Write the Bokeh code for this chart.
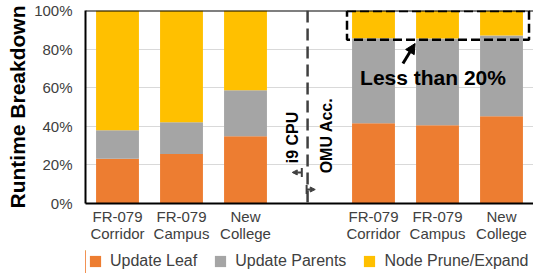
from bokeh.plotting import figure
from bokeh.layouts import column
from bokeh.models import (FixedTicker, Span, Legend, LegendItem, Arrow, NormalHead, TeeHead,
                          ColumnDataSource, Label)
from bokeh.embed import file_html
from bokeh.resources import INLINE

# ---- data ----
categories = ["FR-079\nCorridor", "FR-079\nCampus", "New\nCollege",
              "FR-079\nCorridor", "FR-079\nCampus", "New\nCollege"]
slots = [0, 1, 2, 4, 5, 6]
update_leaf = [23.2, 25.7, 34.9, 41.6, 40.6, 45.2]
update_parents = [14.8, 16.4, 23.8, 44.0, 44.9, 41.8]
node_prune = [62.0, 57.9, 41.3, 14.4, 14.5, 13.0]
series = ["Update Leaf", "Update Parents", "Node Prune/Expand"]
colors = ["#ED7D31", "#A5A5A5", "#FFC000"]
y_ticks = [0, 20, 40, 60, 80, 100]

FONT = "Liberation Sans"

src = ColumnDataSource(dict(x=slots, leaf=update_leaf, parents=update_parents, prune=node_prune))

p = figure(frame_width=448, frame_height=193, output_backend="svg", toolbar_location=None,
           x_range=(-0.5, 6.5), y_range=(0, 100),
           min_border_left=85, min_border_right=0, min_border_top=10, min_border_bottom=47)
p.outline_line_color = None

rs = p.vbar_stack(["leaf", "parents", "prune"], x="x", width=0.67, source=src,
                  color=colors, line_color=None)

# axes
p.xaxis.ticker = FixedTicker(ticks=slots)
p.xaxis.major_label_overrides = {s: c for s, c in zip(slots, categories)}
p.xaxis.major_tick_line_color = None
p.xaxis.minor_tick_line_color = None
p.xaxis.major_tick_out = 0
p.xaxis.major_tick_in = 0
p.xaxis.axis_line_color = "black"
p.xaxis.axis_line_width = 2
p.xaxis.major_label_text_font = FONT
p.xaxis.major_label_text_font_size = "15px"
p.xaxis.major_label_text_color = "#404040"
p.xaxis.major_label_text_line_height = 1.05
p.xaxis.major_label_standoff = 4
p.xaxis.axis_label_standoff = 0

p.yaxis.ticker = FixedTicker(ticks=y_ticks)
p.yaxis.major_label_overrides = {t: f"{t}%" for t in y_ticks}
p.yaxis.major_tick_line_color = None
p.yaxis.minor_tick_line_color = None
p.yaxis.axis_line_color = "black"
p.yaxis.axis_line_width = 2
p.yaxis.major_label_text_font = FONT
p.yaxis.major_label_text_font_size = "15px"
p.yaxis.major_label_text_color = "#404040"
p.yaxis.major_label_standoff = 7
p.yaxis.axis_label = "Runtime Breakdown"
p.yaxis.axis_label_text_font = FONT
p.yaxis.axis_label_text_font_style = "bold"
p.yaxis.axis_label_text_font_size = "21px"
p.yaxis.axis_label_text_color = "black"
p.yaxis.axis_label_standoff = 2

p.xgrid.grid_line_color = None
p.ygrid.ticker = FixedTicker(ticks=y_ticks)
p.ygrid.grid_line_color = "#D9D9D9"
p.ygrid.grid_line_width = 1

# top border
p.add_layout(Span(location=100, dimension="width", line_color="black", line_width=2))

# divider
p.add_layout(Span(location=2.97, dimension="height", line_color="#404040", line_width=2.5,
                  line_dash="12 6"))

# dashed box around the top portion
p.line(x=[3.586, 6.43, 6.43, 3.586, 3.586], y=[99.8, 99.8, 84.8, 84.8, 99.8],
       line_color="black", line_width=2.5, line_dash="9 4")

# arrow + annotation
p.add_layout(Arrow(x_start=4.46, y_start=72.5, x_end=4.65, y_end=82.9,
                   line_color="black", line_width=3,
                   end=NormalHead(size=10, fill_color="black", line_color="black")))
p.add_layout(Label(x=3.79, y=65.3, text="Less than 20%", text_font=FONT,
                   text_font_style="bold", text_font_size="21px", text_color="black",
                   text_baseline="middle", text_align="left"))

# i9 CPU / OMU Acc.
p.add_layout(Label(x=2.74, y=34.2, text="i9 CPU", text_font=FONT, angle=1.5708,
                   text_font_style="bold", text_font_size="16px", text_color="black",
                   text_baseline="middle", text_align="center"))
p.add_layout(Label(x=3.27, y=35.2, text="OMU Acc.", text_font=FONT, angle=1.5708,
                   text_font_style="bold", text_font_size="16px", text_color="black",
                   text_baseline="middle", text_align="center"))
p.add_layout(Arrow(x_start=2.88, y_start=16.1, x_end=2.73, y_end=16.1,
                   line_color="#404040", line_width=2,
                   start=TeeHead(size=9, line_color="#404040", line_width=2),
                   end=NormalHead(size=5, fill_color="#404040", line_color="#404040")))
p.add_layout(Arrow(x_start=2.955, y_start=7.25, x_end=3.09, y_end=7.25,
                   line_color="#404040", line_width=2,
                   start=TeeHead(size=9, line_color="#404040", line_width=2),
                   end=NormalHead(size=5, fill_color="#404040", line_color="#404040")))

# ---- legend strip (separate small figure below the chart) ----
lg = figure(width=533, height=23, output_backend="svg", toolbar_location=None,
            x_range=(100, 101), y_range=(0, 1), x_axis_location=None, y_axis_location=None,
            min_border=0)
lg.outline_line_color = None
lg.grid.visible = False
legend_renderers = lg.vbar_stack(["leaf", "parents", "prune"], x="x", width=0.67, source=src,
                                 color=colors, line_color=None)
legend = Legend(items=[LegendItem(label=s, renderers=[r]) for s, r in zip(series, legend_renderers)],
                orientation="horizontal", location=(3, 3),
                glyph_width=14, glyph_height=14, label_height=14, label_standoff=8, spacing=16,
                padding=0, margin=0, border_line_color=None, background_fill_color=None,
                label_text_font=FONT, label_text_font_size="16px", label_text_color="#404040")
lg.add_layout(legend)

layout = column(p, lg, spacing=0)
open("out.html", "w").write(file_html(layout, INLINE))
